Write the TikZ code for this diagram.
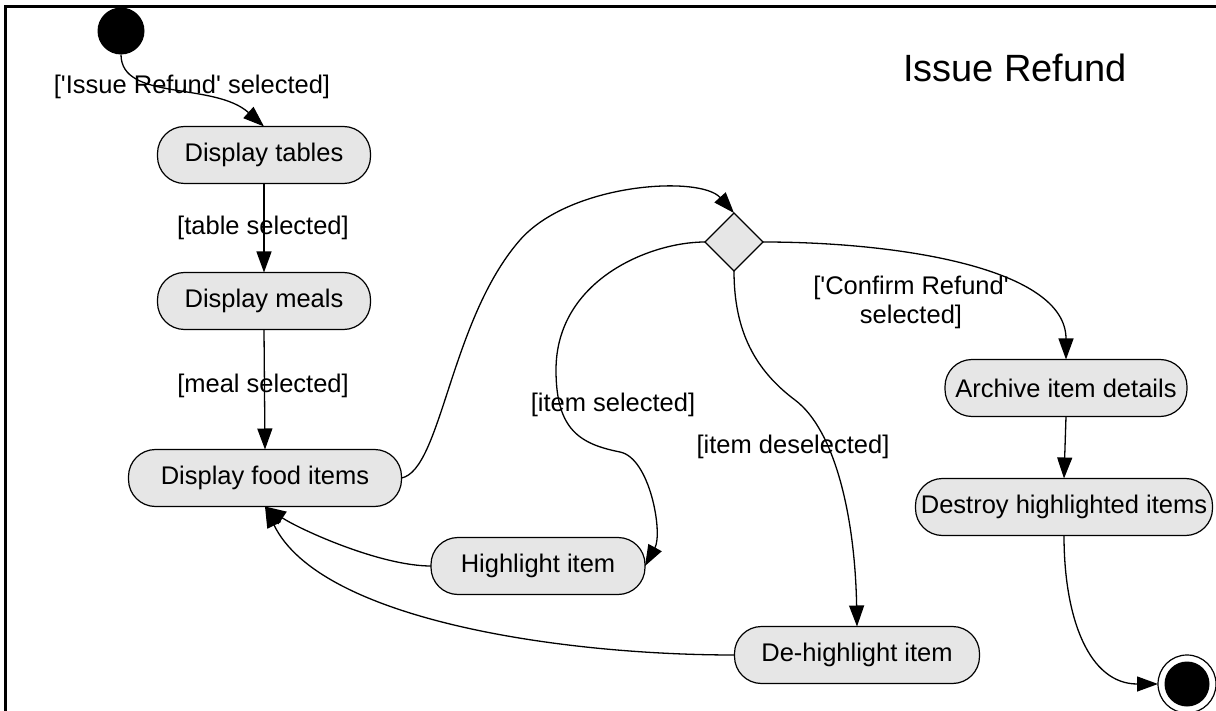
\documentclass[tikz,border=0pt]{standalone}
\usepackage{fontspec}
\setmainfont{Liberation Sans}
\usetikzlibrary{shapes.geometric,arrows.meta}
\definecolor{actfill}{HTML}{E6E6E6}

\begin{document}
\begin{tikzpicture}[x=1pt,y=-1pt,
  every node/.style={inner sep=0pt, outer sep=0pt},
  txt/.style={font=\fontsize{25.5}{29}\selectfont, align=center},
  action/.style={txt, draw=black, line width=1.2pt, fill=actfill,
    rectangle, rounded corners=27pt, minimum height=57pt},
  decision/.style={diamond, draw=black, line width=1.2pt, fill=actfill,
    minimum width=58pt, minimum height=58pt},
  flow/.style={line width=1.3pt, -{Triangle[length=21pt,width=15pt]}},
  frameline/.style={line width=3pt}
]
\useasboundingbox (0,0) rectangle (1216,711);

% outer frame
\draw[frameline] (5.5,711) -- (5.5,7) -- (1216,7);

% title
\node[font=\fontsize{38}{44}\selectfont] (title) at (1015,68) {Issue Refund};

% start and end
\node[circle, fill=black, minimum size=47pt] (init) at (121,31) {};
\node[circle, draw=black, line width=1.2pt, fill=white, minimum size=58pt] (fin) at (1187,684) {};
\node[circle, fill=black, minimum size=45pt] (finin) at (fin.center) {};

% actions
\node[action, minimum width=213pt] (tables)  at (264,155) {Display tables};
\node[action, minimum width=213pt] (meals)   at (264,301) {Display meals};
\node[action, minimum width=273pt] (food)    at (265,478) {Display food items};
\node[action, minimum width=214pt] (hl)      at (538,566) {Highlight item};
\node[action, minimum width=245pt] (dehl)    at (857,655) {De-highlight item};
\node[action, minimum width=242pt] (archive) at (1066,388) {Archive item details};
\node[action, minimum width=297pt] (destroy) at (1064,507) {Destroy highlighted items};

% decision
\node[decision] (dec) at (734,242) {};

% guard labels
\node[txt] (g1) at (192,87)  {[\textquotesingle Issue Refund\textquotesingle\ selected]};
\node[txt] (g2) at (263,228) {[table selected]};
\node[txt] (g3) at (263,386) {[meal selected]};
\node[txt] (g4) at (613,405) {[item selected]};
\node[txt] (g5) at (793,447) {[item deselected]};
\node[txt] (g6) at (911,302) {[\textquotesingle Confirm Refund\textquotesingle\\selected]};

% bend points
\coordinate (m1) at (520,240);
\coordinate (m2) at (556,370);
\coordinate (m3) at (620,452);
\coordinate (m4) at (795,400);

% transitions
\draw[flow] (init.south) .. controls +(0,47) and +(-50,-45) .. (tables.north);
\draw[flow] (tables.south) -- (meals.north);
\draw[flow] (meals.south) -- (food.north);
\draw[flow] (food.east) .. controls +(40,-8) and +(-70,80) .. (m1)
  .. controls +(50,-57) and +(-34,-38) .. (dec.north);
\draw[flow] (dec.west) .. controls +(-55,0) and +(0,-90) .. (m2)
  .. controls +(0,60) and +(-40,-8) .. (m3)
  .. controls +(30,6) and +(18,-33) .. (hl.east);
\draw[flow] (dec.south) .. controls +(0,60) and +(-40,-30) .. (m4)
  .. controls +(40,30) and +(-2,-110) .. (dehl.north);
\draw[flow] (dec.east) .. controls +(137,0) and +(0,-91) .. (archive.north);
\draw[flow] (archive.south) -- (destroy.north);
\draw[flow] (destroy.south) .. controls +(0,83) and +(-69,0) .. (fin.west);
\draw[flow] (hl.west) .. controls +(-51,0) and +(35,23) .. (food.south);
\draw[flow] (dehl.west) .. controls +(-175,0) and +(55,113) .. (food.south);
\end{tikzpicture}
\end{document}
